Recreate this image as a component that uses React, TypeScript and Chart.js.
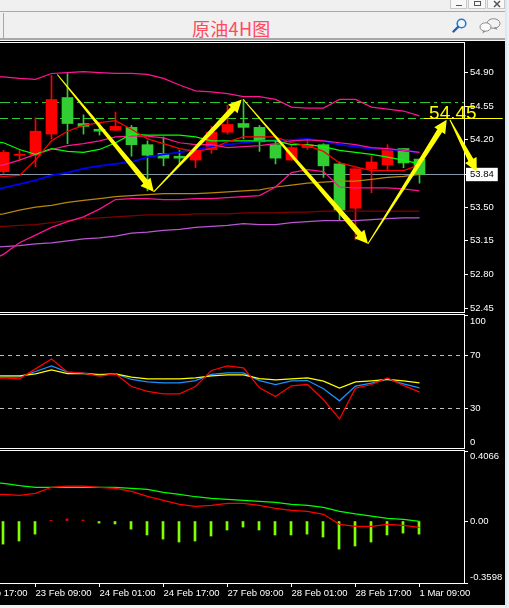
import React, { useEffect, useRef } from "react";
import { Chart, registerables } from "chart.js";

Chart.register(...registerables);

// ---------- candles (index 0 is the first candle in view) ----------
const opens = [53.87, 54.04, 54.04, 54.26, 54.64, 54.37, 54.31, 54.30, 54.33, 54.15, 54.06, 54.03, 53.99, 54.10, 54.28, 54.37, 54.33, 54.15, 53.99, 54.12, 54.15, 53.95, 53.49, 53.90, 53.94, 54.11, 54.00];
const closes = [54.07, 54.05, 54.29, 54.62, 54.37, 54.34, 54.29, 54.34, 54.15, 54.04, 54.01, 54.01, 54.09, 54.28, 54.36, 54.33, 54.18, 54.01, 54.12, 54.15, 53.93, 53.47, 53.90, 53.97, 54.09, 53.96, 53.84];
const highs = [54.09, 54.09, 54.43, 54.87, 54.89, 54.46, 54.38, 54.49, 54.35, 54.19, 54.23, 54.09, 54.09, 54.34, 54.56, 54.62, 54.35, 54.19, 54.15, 54.19, 54.16, 53.97, 53.90, 54.03, 54.15, 54.11, 54.00];
const lows = [53.85, 53.99, 53.92, 54.21, 54.16, 54.26, 54.25, 54.30, 54.03, 53.67, 53.93, 53.95, 53.91, 54.06, 54.26, 54.21, 54.08, 53.95, 53.99, 54.10, 53.81, 53.37, 53.16, 53.65, 53.88, 53.91, 53.75];

// ---------- overlays on price (first value belongs to the candle just off the left edge) ----------
const bollUpper = [54.86, 54.855, 54.84, 54.83, 54.89, 54.90, 54.91, 54.90, 54.89, 54.89, 54.88, 54.84, 54.77, 54.71, 54.70, 54.68, 54.65, 54.65, 54.62, 54.54, 54.53, 54.53, 54.62, 54.62, 54.54, 54.52, 54.50, 54.45];
const bollMiddle = [53.92, 53.94, 53.99, 54.05, 54.10, 54.14, 54.16, 54.19, 54.23, 54.24, 54.24, 54.22, 54.17, 54.15, 54.15, 54.12, 54.13, 54.14, 54.16, 54.19, 54.20, 54.19, 54.17, 54.15, 54.12, 54.11, 54.09, 54.07];
const bollLower = [52.93, 53.01, 53.13, 53.21, 53.29, 53.35, 53.40, 53.48, 53.58, 53.59, 53.59, 53.58, 53.58, 53.59, 53.59, 53.60, 53.61, 53.62, 53.71, 53.86, 53.89, 53.87, 53.71, 53.70, 53.70, 53.70, 53.69, 53.67];
const maRed = [53.84, 53.82, 53.83, 53.99, 54.19, 54.29, 54.35, 54.38, 54.40, 54.31, 54.21, 54.16, 54.11, 54.08, 54.11, 54.18, 54.23, 54.23, 54.23, 54.17, 54.14, 54.08, 53.96, 53.92, 53.88, 53.88, 53.88, 53.94];
const maGreen = [54.19, 54.17, 54.10, 54.05, 54.11, 54.08, 54.07, 54.10, 54.17, 54.26, 54.25, 54.25, 54.25, 54.23, 54.19, 54.19, 54.19, 54.19, 54.19, 54.15, 54.15, 54.13, 54.09, 54.07, 54.05, 54.02, 53.99, 53.95];
const maBlue = [53.68, 53.70, 53.74, 53.78, 53.83, 53.86, 53.90, 53.93, 53.95, 53.97, 54.02, 54.05, 54.07, 54.10, 54.13, 54.15, 54.17, 54.19, 54.20, 54.20, 54.21, 54.19, 54.15, 54.13, 54.11, 54.10, 54.09, 54.07];
const maOrange = [53.41, 53.43, 53.47, 53.50, 53.52, 53.55, 53.57, 53.59, 53.61, 53.62, 53.63, 53.64, 53.64, 53.64, 53.65, 53.66, 53.67, 53.68, 53.71, 53.73, 53.75, 53.76, 53.77, 53.77, 53.79, 53.81, 53.82, 53.84];
const maMaroon = [53.30, 53.30, 53.31, 53.32, 53.34, 53.36, 53.38, 53.39, 53.40, 53.41, 53.42, 53.42, 53.42, 53.43, 53.43, 53.43, 53.44, 53.44, 53.44, 53.45, 53.45, 53.46, 53.46, 53.46, 53.46, 53.46, 53.46, 53.46];
const maPurple = [53.08, 53.09, 53.10, 53.12, 53.13, 53.15, 53.17, 53.18, 53.20, 53.23, 53.24, 53.26, 53.27, 53.29, 53.30, 53.31, 53.33, 53.32, 53.32, 53.34, 53.35, 53.36, 53.36, 53.36, 53.37, 53.38, 53.39, 53.39];

const lastPrice = 53.84;
const levelDashDot = 54.588;
const levelDash = 54.422;
const priceTicks = [54.9, 54.55, 54.2, 53.84, 53.5, 53.15, 52.8, 52.45];
const priceRange = [52.4106, 55.207];

// hand-drawn arrows: [fromIndex, fromPrice, toIndex, toPrice]
const arrows = [
  [3.36, 54.88, 9.39, 53.66],
  [9.39, 53.66, 14.89, 54.62],
  [14.99, 54.62, 22.78, 53.12],
  [22.78, 53.12, 27.7, 54.41],
  [27.9, 54.41, 29.58, 53.87],
];
const noteText = "54.45";
const notePoint = [26.6, 54.42];
const noteLineX = [26.28, 31.2];

// ---------- RSI (first value is off the left edge) ----------
const rsiRed = [52.5, 53.1, 52.4, 59.9, 67.4, 57.4, 56.7, 54.4, 56.2, 46.6, 42.9, 41.1, 41.1, 46.6, 58.7, 62.2, 60.7, 45.6, 39.1, 47.1, 48.1, 36.6, 22.1, 45.4, 48.1, 53.1, 47.4, 42.4];
const rsiBlue = [53.0, 53.6, 53.9, 57.9, 62.2, 57.4, 56.7, 55.7, 56.2, 51.9, 50.1, 49.4, 49.4, 51.1, 55.7, 56.9, 56.9, 51.1, 48.1, 50.9, 51.1, 44.9, 35.8, 46.9, 49.1, 52.1, 48.6, 45.6];
const rsiYellow = [54.6, 54.6, 54.6, 56.2, 59.2, 56.4, 56.4, 55.4, 56.2, 53.6, 52.4, 52.4, 52.4, 53.1, 54.6, 55.4, 55.4, 52.6, 51.6, 52.4, 53.1, 50.6, 45.4, 50.1, 50.9, 51.9, 50.9, 49.4];
const rsiLevels = [70, 30];
const rsiTicks = [100, 70, 30, 0];
const rsiRange = [0.2, 100.55];

// ---------- MACD (lines: first value is off the left edge) ----------
const macdSignal = [0.225, 0.219, 0.205, 0.196, 0.196, 0.196, 0.196, 0.196, 0.196, 0.19, 0.184, 0.167, 0.155, 0.141, 0.132, 0.126, 0.12, 0.114, 0.109, 0.097, 0.091, 0.079, 0.056, 0.041, 0.029, 0.016, 0.01, -0.002];
const macdLine = [0.157, 0.155, 0.149, 0.161, 0.196, 0.202, 0.202, 0.196, 0.19, 0.172, 0.143, 0.12, 0.097, 0.085, 0.091, 0.103, 0.103, 0.091, 0.074, 0.062, 0.056, 0.039, -0.019, -0.031, -0.031, -0.019, -0.025, -0.037];
const macdHist = [-0.134, -0.116, -0.076, 0.004, 0.012, 0.006, -0.012, -0.017, -0.047, -0.081, -0.105, -0.122, -0.116, -0.087, -0.052, -0.035, -0.052, -0.081, -0.081, -0.076, -0.093, -0.163, -0.145, -0.122, -0.081, -0.07, -0.076];
const macdTop = 0.4066;
const macdBottom = -0.3598;
const macdTicks = [macdTop, 0, macdBottom];
const histShift = -0.5 / 16;

// ---------- time axis ----------
const timeTickIndex = [-2, 2, 6, 10, 14, 18, 22, 26];
const timeTickLabels = ["22 Feb 17:00", "23 Feb 09:00", "24 Feb 01:00", "24 Feb 17:00", "27 Feb 09:00", "28 Feb 01:00", "28 Feb 17:00", "1 Mar 09:00"];
const xRange = [-3.5 / 16, 460.5 / 16];
const title = "原油4H图";

const AXIS_FONT = { family: "'Liberation Sans', Arial, sans-serif", size: 9.5 };
const UP = "#ff0000";
const DOWN = "#32cd32";
const LW = 1.25;

const pts = (arr: number[]) => arr.map((y, i) => ({ x: i - 1, y }));
const flat = (v: number) => [xRange[0], xRange[1]].map((x) => ({ x, y: v }));
const line = (label: string, arr: any[], color: string, extra: any = {}) => ({
  type: "line",
  label,
  data: arr,
  borderColor: color,
  borderWidth: LW,
  pointRadius: 0,
  tension: 0,
  ...extra,
});

const xScale = (showLabels: boolean) => ({
  type: "linear",
  min: xRange[0],
  max: xRange[1],
  offset: false,
  display: showLabels,
  grid: { offset: false, drawOnChartArea: false, drawTicks: true, tickLength: 4, tickColor: "#fff", color: "#fff" },
  border: { display: false },
  afterBuildTicks: (s: any) => {
    s.ticks = timeTickIndex.map((value) => ({ value }));
  },
  afterFit: (s: any) => {
    s.paddingLeft = 0;
    s.paddingRight = 0;
    s.height = showLabels ? 22 : 0;
  },
  ticks: {
    autoSkip: false,
    maxRotation: 0,
    minRotation: 0,
    align: "start",
    padding: 1,
    color: "#fff",
    font: AXIS_FONT,
    callback: (_v: any, i: number) => timeTickLabels[i],
  },
});

const yScale = (min: number, max: number, ticks: number[], label: (v: number) => any, extraTicks: any = {}) => ({
  type: "linear",
  position: "right",
  min,
  max,
  grid: { drawOnChartArea: false, drawTicks: true, tickLength: 4, tickColor: "#fff", color: "#fff" },
  border: { display: false },
  afterBuildTicks: (s: any) => {
    s.ticks = ticks.map((value) => ({ value }));
  },
  afterFit: (s: any) => {
    s.width = 45;
    s.paddingTop = 0;
    s.paddingBottom = 0;
  },
  ticks: {
    autoSkip: false,
    padding: 2,
    color: "#fff",
    font: AXIS_FONT,
    callback: (v: number) => label(v),
    ...extraTicks,
  },
});

const baseOptions = (scales: any) => ({
  responsive: false,
  maintainAspectRatio: false,
  animation: false,
  layout: { padding: 0 },
  plugins: { legend: { display: false }, tooltip: { enabled: false } },
  events: [],
  scales,
});

const annotationPlugin = {
  id: "arrowAnnotations",
  afterDraw(chart: any) {
    const { ctx, scales } = chart;
    const sx = scales.x;
    const sy = scales.y;
    ctx.save();
    ctx.fillStyle = "#ffff00";
    arrows.forEach(([i0, p0, i1, p1]) => {
      const ax = sx.getPixelForValue(i0);
      const ay = sy.getPixelForValue(p0);
      const bx = sx.getPixelForValue(i1);
      const by = sy.getPixelForValue(p1);
      const len = Math.hypot(bx - ax, by - ay);
      const ux = (bx - ax) / len;
      const uy = (by - ay) / len;
      const nx = -uy;
      const ny = ux;
      const head = 13;
      const cx = bx - ux * head;
      const cy = by - uy * head;
      const w0 = 0.5;
      const w1 = 2.8;
      const hw = 6.5;
      ctx.beginPath();
      ctx.moveTo(ax + nx * w0, ay + ny * w0);
      ctx.lineTo(cx + nx * w1, cy + ny * w1);
      ctx.lineTo(cx + nx * hw, cy + ny * hw);
      ctx.lineTo(bx, by);
      ctx.lineTo(cx - nx * hw, cy - ny * hw);
      ctx.lineTo(cx - nx * w1, cy - ny * w1);
      ctx.lineTo(ax - nx * w0, ay - ny * w0);
      ctx.closePath();
      ctx.fill();
    });
    ctx.font = "19px 'Liberation Sans', Arial, sans-serif";
    ctx.textAlign = "left";
    ctx.textBaseline = "alphabetic";
    ctx.fillText(noteText, sx.getPixelForValue(notePoint[0]), sy.getPixelForValue(notePoint[1]));
    ctx.restore();
  },
};

const wrap: React.CSSProperties = {
  position: "fixed",
  left: 0,
  top: 0,
  width: 509,
  height: 608,
  overflow: "hidden",
  background: "#f0f0f0",
};

const abs = (left: number, top: number, width: number, height: number, extra: React.CSSProperties = {}): React.CSSProperties => ({
  position: "absolute",
  left,
  top,
  width,
  height,
  boxSizing: "content-box",
  ...extra,
});

export default function App() {
  const priceRef = useRef<HTMLCanvasElement>(null);
  const rsiRef = useRef<HTMLCanvasElement>(null);
  const macdRef = useRef<HTMLCanvasElement>(null);

  useEffect(() => {
    const candleColors = opens.map((o, i) => (closes[i] >= o ? UP : DOWN));
    const price = new Chart(priceRef.current as any, {
      type: "bar",
      data: {
        datasets: [
          line("note level", noteLineX.map((x) => ({ x, y: levelDash })), "#ffff00", { clip: false, borderWidth: 1 }),
          line("MA fast", pts(maRed), "#ff0000"),
          line("MA green", pts(maGreen), "#00ff00"),
          line("Boll upper", pts(bollUpper), "#ff1493"),
          line("Boll middle", pts(bollMiddle), "#ff1493"),
          line("Boll lower", pts(bollLower), "#ff1493"),
          line("MA blue", pts(maBlue), "#0000ff", { borderWidth: 1.75 }),
          line("MA orange", pts(maOrange), "#b8860b"),
          line("MA maroon", pts(maMaroon), "#800000"),
          line("MA purple", pts(maPurple), "#ba55d3"),
          {
            type: "bar",
            label: "bodies",
            grouped: false,
            barThickness: 11,
            data: opens.map((o, i) => ({ x: i, y: [o, closes[i]] })),
            backgroundColor: candleColors,
            borderWidth: 0,
          },
          {
            type: "bar",
            label: "wicks",
            grouped: false,
            barThickness: 1,
            data: lows.map((l, i) => ({ x: i, y: [l, highs[i]] })),
            backgroundColor: candleColors,
            borderWidth: 0,
          },
          line("level dash-dot", flat(levelDashDot), "#32cd32", { borderDash: [10, 4, 3, 4], borderWidth: 1 }),
          line("level dash", flat(levelDash), "#32cd32", { borderDash: [8, 4], borderWidth: 1 }),
          line("last", flat(lastPrice), "#8899aa", { borderWidth: 1 }),
        ] as any,
      },
      options: baseOptions({
        x: xScale(false),
        y: yScale(priceRange[0], priceRange[1], priceTicks, (v) => v.toFixed(2), {
          showLabelBackdrop: (c: any) => c.tick && c.tick.value === lastPrice,
          backdropColor: "#fff",
          backdropPadding: { top: 1, bottom: 1, left: 4, right: 4 },
          color: (c: any) => (c.tick && c.tick.value === lastPrice ? "#000" : "#fff"),
        }),
      }) as any,
      plugins: [annotationPlugin],
    });

    const rsi = new Chart(rsiRef.current as any, {
      type: "line",
      data: {
        datasets: [
          line("RSI fast", pts(rsiRed), "#ff0000"),
          line("RSI slow", pts(rsiYellow), "#ffff00"),
          line("RSI mid", pts(rsiBlue), "#1e90ff"),
          ...rsiLevels.map((l) => line("level " + l, flat(l), "#c0c0c0", { borderDash: [4, 4], borderWidth: 1 })),
        ] as any,
      },
      options: baseOptions({
        x: xScale(false),
        y: yScale(rsiRange[0], rsiRange[1], rsiTicks, (v) => (v === 100 ? ["", "100"] : v === 0 ? ["0", ""] : String(v))),
      }) as any,
    });

    const macd = new Chart(macdRef.current as any, {
      type: "bar",
      data: {
        datasets: [
          line("MACD", pts(macdLine), "#ff0000"),
          line("Signal", pts(macdSignal), "#00ff00"),
          {
            type: "bar",
            label: "Histogram",
            grouped: false,
            barThickness: 2,
            data: macdHist.map((y, i) => ({ x: i + histShift, y })),
            backgroundColor: macdHist.map((v) => (v > 0 ? "#ff0000" : "#7fff00")),
            borderWidth: 0,
          },
        ] as any,
      },
      options: baseOptions({
        x: xScale(true),
        y: yScale(macdBottom, macdTop, macdTicks, (v) =>
          v === macdTop ? ["", "0.4066"] : v === macdBottom ? ["-0.3598", ""] : "0.00"
        ),
      }) as any,
    });

    return () => {
      price.destroy();
      rsi.destroy();
      macd.destroy();
    };
  }, []);

  const frame: React.CSSProperties = {
    border: "1px solid #fff",
    borderLeft: "none",
  };
  const winBtn: React.CSSProperties = {
    background: "#f8f8f8",
    border: "1px solid #c8c8c8",
    borderTop: "none",
    boxSizing: "border-box",
  };

  return (
    <div style={wrap}>
      {/* window chrome */}
      <div style={abs(0, 11, 505, 1, { background: "#a8a8a8" })} />
      <div style={abs(3, 13, 1, 25, { background: "#a8a8a8" })} />
      <div style={abs(0, 38, 505, 2, { background: "#a8a8a8" })} />
      <div style={abs(505, 0, 2, 608, { background: "#dbe8f4" })} />
      <div style={abs(450, 0, 17, 9, winBtn)}>
        <div style={abs(5, 5, 6, 1, { background: "#555" })} />
      </div>
      <div style={abs(468, 0, 18, 9, winBtn)}>
        <div style={abs(5, 1, 7, 5, { border: "1px solid #555", boxSizing: "border-box" })} />
      </div>
      <div style={abs(487, 0, 18, 9, winBtn)}>
        <svg width="18" height="9" style={{ position: "absolute", left: 0, top: 0 }}>
          <path d="M6 1L12 7M12 1L6 7" stroke="#555" strokeWidth="1.5" />
        </svg>
      </div>
      <div
        style={abs(192, 18, 90, 21, {
          color: "#ff4a5e",
          fontFamily: "'Noto Sans CJK SC', sans-serif",
          fontSize: 18,
          lineHeight: "21px",
          whiteSpace: "nowrap",
          letterSpacing: 0.3,
        })}
      >
        {title}
      </div>
      <svg width="16" height="16" style={{ position: "absolute", left: 452, top: 17 }}>
        <circle cx="9.5" cy="6.5" r="4.3" fill="#eef5fb" stroke="#2f78c8" strokeWidth="1.6" />
        <path d="M6 10L1.5 14.5" stroke="#1f5fb0" strokeWidth="2.4" strokeLinecap="round" />
      </svg>
      <svg width="24" height="18" style={{ position: "absolute", left: 478, top: 17 }}>
        <ellipse cx="15.5" cy="6.5" rx="6.5" ry="4.8" fill="#f2f2f2" stroke="#8a8a8a" />
        <path d="M18 10L19.5 13L15 11Z" fill="#8a8a8a" />
        <ellipse cx="7.5" cy="10" rx="5.5" ry="4.2" fill="#fafafa" stroke="#8a8a8a" />
        <path d="M5 14L4.5 16.5L8 14Z" fill="#8a8a8a" />
      </svg>

      {/* terminal area */}
      <div style={abs(0, 40, 505, 565, { background: "#000" })} />
      <div style={abs(0, 40, 505, 1, { background: "#f5f5f5" })} />
      <div style={abs(0, 42, 464, 269, frame)} />
      <div style={abs(0, 314, 464, 133, frame)} />
      <div style={abs(0, 450, 464, 132, frame)} />

      <canvas ref={priceRef} width={509} height={269} style={abs(0, 43, 509, 269, { display: "block" })} />
      <canvas ref={rsiRef} width={509} height={133} style={abs(0, 315, 509, 133, { display: "block" })} />
      <canvas ref={macdRef} width={509} height={154} style={abs(0, 451, 509, 154, { display: "block" })} />
    </div>
  );
}
